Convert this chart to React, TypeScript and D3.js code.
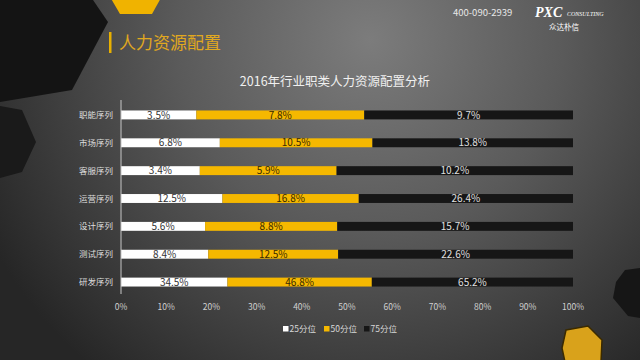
import React from "react";
import * as d3 from "d3";

const categories = ["职能序列", "市场序列", "客服序列", "运营序列", "设计序列", "测试序列", "研发序列"];
const p25 = [3.5, 6.8, 3.4, 12.5, 5.6, 8.4, 34.5];
const p50 = [7.8, 10.5, 5.9, 16.8, 8.8, 12.5, 46.8];
const p75 = [9.7, 13.8, 10.2, 26.4, 15.7, 22.6, 65.2];
const seriesNames = ["25分位", "50分位", "75分位"];
const xTicks = [0, 0.1, 0.2, 0.3, 0.4, 0.5, 0.6, 0.7, 0.8, 0.9, 1];

const W = 640;
const H = 360;
const FONT = "'Noto Sans CJK SC', 'Noto Sans', sans-serif";

const colors = ["#ffffff", "#f5b800", "#161616"];
const labelColors = ["#333333", "#3a2a00", "#e0e0e0"];

export default function App() {
  const x = d3.scaleLinear().domain([0, 1]).range([121, 573]);
  const y = d3
    .scaleBand<string>()
    .domain(categories)
    .range([101, 296])
    .paddingInner(0.68)
    .paddingOuter(0.34);

  const rows = categories.map((c, i) => ({ c, v25: p25[i], v50: p50[i], v75: p75[i] }));
  const stack = d3
    .stack<any>()
    .keys(["v25", "v50", "v75"])
    .offset(d3.stackOffsetExpand);
  const stacked = stack(rows);
  const rawVals = [p25, p50, p75];

  const legendItems = [
    { x: 283, name: seriesNames[0], color: colors[0] },
    { x: 324, name: seriesNames[1], color: colors[1] },
    { x: 364, name: seriesNames[2], color: colors[2] },
  ];

  return (
    <svg width={W} height={H} style={{ position: "absolute", left: 0, top: 0, display: "block" }}>
      <defs>
        <radialGradient id="bg" gradientUnits="userSpaceOnUse" cx={370} cy={40} r={430}>
          <stop offset="0" stopColor="#7c7c7c" />
          <stop offset="0.45" stopColor="#5a5a5a" />
          <stop offset="1" stopColor="#262626" />
        </radialGradient>
      </defs>
      <rect x={0} y={0} width={W} height={H} fill="url(#bg)" />

      {/* decorations */}
      <polygon points="0,0 93,0 108,22 72,90 0,102" fill="#141414" />
      <polygon points="0,106 22,110 36,142 22,172 0,178" fill="#1a1a1a" />
      <polygon points="106,-10 120,14 152,14 162,-4 158,-10" fill="#f0b300" />
      <polygon points="625,270 640,268 640,318 628,316 613,298 616,282" fill="#161616" />
      <polygon points="566,330 588,326 602,340 601,362 565,362 562,348" fill="#d9a21b" stroke="#3a2a00" strokeWidth={1.5} />

      {/* header */}
      <text x={453} y={16} fontFamily={FONT} fontSize={9.5} fill="#e8e8e8">400-090-2939</text>
      <text x={535} y={17} fontFamily="'Liberation Serif', serif" fontStyle="italic" fontWeight="bold" fontSize={14} fill="#ffffff">PXC</text>
      <text x={567} y={16} fontFamily="'Liberation Serif', serif" fontStyle="italic" fontSize={6} fill="#ffffff">CONSULTING</text>
      <text x={549} y={30} fontFamily={FONT} fontSize={7.5} fill="#ffffff">众达朴信</text>

      <rect x={109} y={32} width={2.5} height={21} fill="#e8b000" />
      <text x={119} y={49} fontFamily={FONT} fontSize={17} fill="#e0a820">人力资源配置</text>

      <text x={335} y={86} textAnchor="middle" fontFamily={FONT} fontSize={12.5} fill="#f0f0f0">
        2016年行业职类人力资源配置分析
      </text>

      {/* bars */}
      {stacked.map((layer, si) =>
        layer.map((d, i) => {
          const cat = categories[i];
          const x0 = x(d[0]);
          const x1 = x(d[1]);
          const yy = y(cat) as number;
          return (
            <g key={`${si}-${i}`}>
              <rect x={x0} y={yy} width={x1 - x0} height={y.bandwidth()} fill={colors[si]} />
              <text
                x={(x0 + x1) / 2}
                y={yy + y.bandwidth() / 2 + 3.6}
                textAnchor="middle"
                fontFamily={FONT}
                fontSize={10}
                fill={labelColors[si]}
              >
                {rawVals[si][i].toFixed(1)}%
              </text>
            </g>
          );
        })
      )}

      {/* y axis */}
      <line x1={x(0)} x2={x(0)} y1={100} y2={294} stroke="#c8c8c8" strokeWidth={1} />
      {categories.map((c) => (
        <text
          key={c}
          x={113}
          y={(y(c) as number) + y.bandwidth() / 2 + 3}
          textAnchor="end"
          fontFamily={FONT}
          fontSize={8.5}
          fill="#dddddd"
        >
          {c}
        </text>
      ))}

      {/* x ticks */}
      {xTicks.map((t) => (
        <text key={t} x={x(t)} y={310} textAnchor="middle" fontFamily={FONT} fontSize={8.5} fill="#d0d0d0">
          {d3.format(".0%")(t)}
        </text>
      ))}

      {/* legend */}
      {legendItems.map((l) => (
        <g key={l.name}>
          <rect x={l.x} y={326} width={5.5} height={5.5} fill={l.color} />
          <text x={l.x + 6.5} y={332} fontFamily={FONT} fontSize={8.5} fill="#d8d8d8">
            {l.name}
          </text>
        </g>
      ))}
    </svg>
  );
}
